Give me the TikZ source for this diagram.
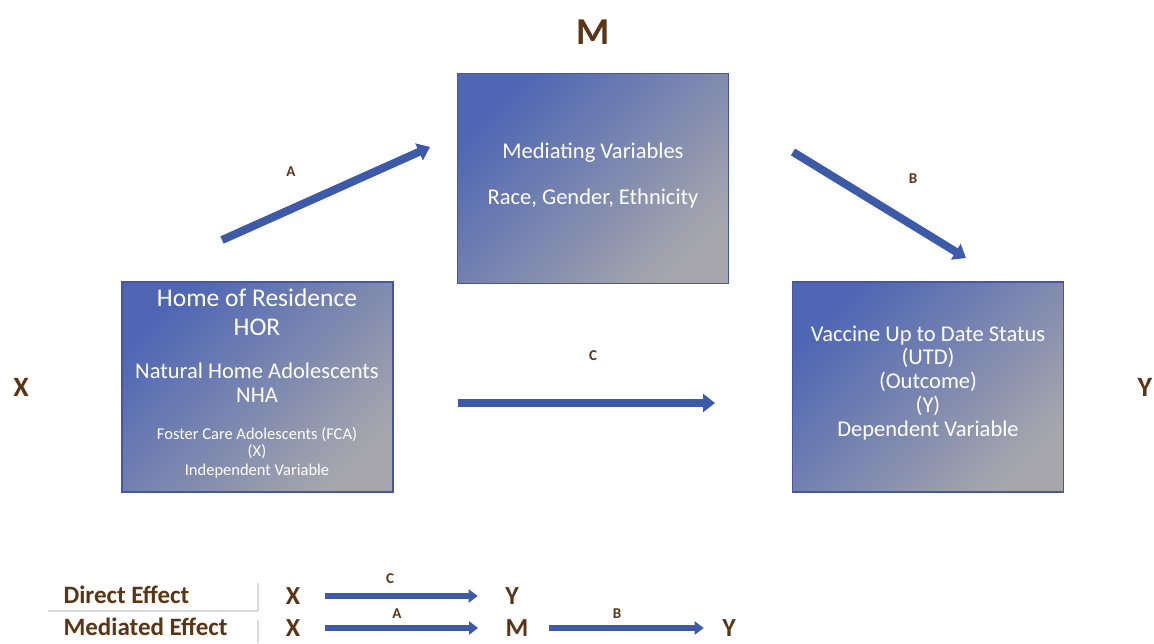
\documentclass[tikz,border=0pt]{standalone}
\usepackage{fontspec}
\setmainfont{Carlito}
\usetikzlibrary{arrows.meta}
\definecolor{boxblue}{HTML}{4E66B4}
\definecolor{boxgray}{HTML}{A6A6AC}
\definecolor{boxedge}{HTML}{4557A0}
\definecolor{arrowblue}{HTML}{3D5AA9}
\definecolor{letterbrown}{HTML}{5C3514}
\definecolor{rulegray}{HTML}{DADADA}
\tikzset{
  varbox/.style={draw=boxedge, line width=1.2pt, top color=boxblue, middle color=boxblue!85!boxgray,
    bottom color=boxgray, shading angle=45, minimum width=271pt, minimum height=210pt, inner sep=0pt},
  boxtext/.style={text=white, anchor=mid, inner sep=0pt},
  bigletter/.style={text=letterbrown, font=\bfseries\fontsize{26}{30}\selectfont},
  pathlabel/.style={text=letterbrown, font=\bfseries\fontsize{15}{18}\selectfont},
  effect arrow/.style={draw=arrowblue, line width=8pt, -{Triangle[length=12pt,width=18pt]}},
  legend arrow/.style={draw=arrowblue, line width=6pt, -{Triangle[length=9pt,width=13pt]}},
  legendtext/.style={text=letterbrown, anchor=west, font=\bfseries\fontsize{25}{29}\selectfont},
}
\begin{document}
\begin{tikzpicture}[x=1pt, y=-1pt]
  \useasboundingbox (0,0) rectangle (1154,643);
  % variable boxes
  \node[varbox] (hor) at (257.5,387) {};
  \node[varbox] (med) at (593,178.5) {};
  \node[varbox] (utd) at (928,387) {};
  % X box text
  \node[boxtext, font=\fontsize{25.5}{29}\selectfont] (hor-title) at (257,304) {Home of Residence};
  \node[boxtext, font=\fontsize{25.5}{29}\selectfont] (hor-abbr) at (257,333) {HOR};
  \node[boxtext, font=\fontsize{22.5}{26}\selectfont] (nha-title) at (257,376) {Natural Home Adolescents};
  \node[boxtext, font=\fontsize{22.5}{26}\selectfont] (nha-abbr) at (257,400) {NHA};
  \node[boxtext, font=\fontsize{16.5}{19}\selectfont] (fca-title) at (257,437) {Foster Care Adolescents (FCA)};
  \node[boxtext, font=\fontsize{16.5}{19}\selectfont] (fca-abbr) at (257,454) {(X)};
  \node[boxtext, font=\fontsize{16.5}{19}\selectfont] (hor-role) at (257,473) {Independent Variable};
  % M box text
  \node[boxtext, font=\fontsize{22.5}{26}\selectfont] (med-title) at (593,156) {Mediating Variables};
  \node[boxtext, font=\fontsize{22.5}{26}\selectfont] (med-list) at (593,202) {Race, Gender, Ethnicity};
  % Y box text
  \node[boxtext, font=\fontsize{22.5}{26}\selectfont] (utd-title) at (928,339) {Vaccine Up to Date Status};
  \node[boxtext, font=\fontsize{22.5}{26}\selectfont] (utd-abbr) at (928,362) {(UTD)};
  \node[boxtext, font=\fontsize{22.5}{26}\selectfont] (utd-kind) at (928,386) {(Outcome)};
  \node[boxtext, font=\fontsize{22.5}{26}\selectfont] (utd-var) at (928,410) {(Y)};
  \node[boxtext, font=\fontsize{22.5}{26}\selectfont] (utd-role) at (928,434) {Dependent Variable};
  % variable letters
  \node[bigletter, font=\bfseries\fontsize{38}{42}\selectfont] (m-letter) at (593,32) {M};
  \node[bigletter, font=\bfseries\fontsize{28}{32}\selectfont] (x-letter) at (21,387) {X};
  \node[bigletter, font=\bfseries\fontsize{28}{32}\selectfont] (y-letter) at (1145,387) {Y};
  % paths
  \coordinate (a-start) at (222,240); \coordinate (a-end) at (430,147);
  \coordinate (b-start) at (793,152); \coordinate (b-end) at (966,258);
  \coordinate (c-start) at (458,403); \coordinate (c-end) at (715,403);
  \draw[effect arrow] (a-start) -- (a-end);
  \draw[effect arrow] (b-start) -- (b-end);
  \draw[effect arrow] (c-start) -- (c-end);
  \node[pathlabel] (a-label) at (291,172) {A};
  \node[pathlabel] (b-label) at (913,179) {B};
  \node[pathlabel] (c-label) at (593,356) {C};
  % legend
  \draw[rulegray, line width=1.5pt] (48,611) -- (258,611);
  \draw[rulegray, line width=1.5pt] (258,583) -- (258,611) (258,620) -- (258,643);
  \node[legendtext] (direct) at (60,595) {Direct Effect};
  \node[legendtext] (mediated) at (60,627) {Mediated Effect};
  \node[bigletter] (lx1) at (293,596) {X};
  \node[bigletter] (ly1) at (512,596) {Y};
  \node[bigletter] (lx2) at (293,628) {X};
  \node[bigletter] (lm2) at (517,628) {M};
  \node[bigletter] (ly2) at (729,628) {Y};
  \draw[legend arrow, shorten <=21pt, shorten >=24pt] (lx1) -- (ly1);
  \draw[legend arrow, shorten <=21pt, shorten >=24pt] (lx2) -- (lm2);
  \draw[legend arrow, shorten <=17pt, shorten >=15pt] (lm2) -- (ly2);
  \node[pathlabel] (lc-label) at (390,579) {C};
  \node[pathlabel] (la-label) at (397,614) {A};
  \node[pathlabel] (lb-label) at (617,614) {B};
\end{tikzpicture}
\end{document}
